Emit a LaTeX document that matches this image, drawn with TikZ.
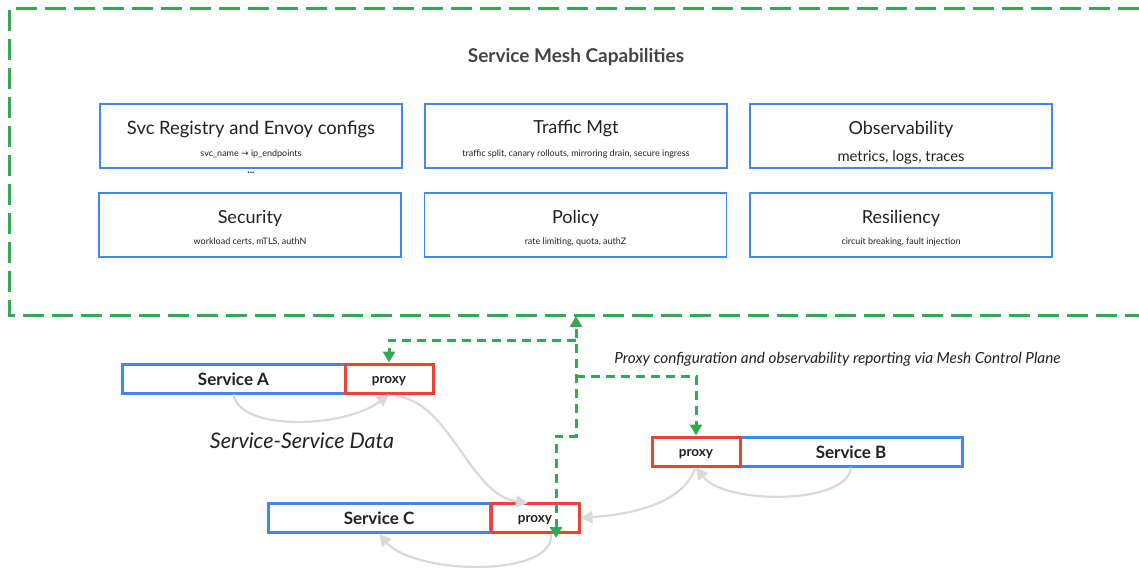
\documentclass[tikz,border=0pt]{standalone}
\usepackage{fontspec}
\setmainfont{Lato}
\newfontfamily\arrowfont{DejaVu Sans}
\usetikzlibrary{arrows.meta}
\definecolor{gGreen}{HTML}{34A853}
\definecolor{gBlue}{HTML}{4285F4}
\definecolor{gRed}{HTML}{EA4335}
\definecolor{flowGray}{HTML}{D9D9D9}
\definecolor{titleGray}{HTML}{434343}
\definecolor{txt}{HTML}{202124}
\begin{document}
\begin{tikzpicture}[x=1pt,y=-1pt,
  capbox/.style={draw=gBlue, line width=1.2pt, minimum width=302pt, minimum height=64pt, inner sep=0pt},
  captitle/.style={inner sep=0pt, text=txt, font=\fontsize{18}{20}\selectfont},
  capsub/.style={inner sep=0pt, text=txt, font=\fontsize{9}{10}\selectfont},
  svcbox/.style={draw=gBlue, line width=3pt, minimum width=223pt, minimum height=29pt, inner sep=0pt, text height=14pt, text depth=1pt, text=txt, font=\bfseries\fontsize{17}{19}\selectfont},
  proxybox/.style={draw=gRed, line width=3pt, minimum width=88pt, minimum height=29pt, inner sep=0pt, text height=9pt, text depth=-1pt, text=txt, font=\bfseries\fontsize{13.5}{15}\selectfont},
  flow/.style={draw=flowGray, line width=2.2pt, -{Triangle[length=12pt,width=12pt]}},
  ctrl/.style={draw=gGreen, line width=3pt, dash pattern=on 9pt off 6pt},
  tip/.style={-{Triangle[length=11pt,width=12pt]}},
]
\useasboundingbox (0,0) rectangle (1139,567);

% mesh capabilities frame
\draw[gGreen, line width=3pt, dash pattern=on 21pt off 8pt] (1139,9) -- (9,9) -- (9,315) -- (1139,315);
\node[inner sep=0pt, text=titleGray, font=\bfseries\fontsize{19}{21}\selectfont] (meshtitle) at (576,57) {Service Mesh Capabilities};
\coordinate (meshb) at (576,316);

% capability boxes
\node[capbox] (reg) at (251,136) {};
\node[captitle, font=\fontsize{18.4}{20}\selectfont] (regt) at (251,129) {Svc Registry and Envoy configs};
\node[capsub] (regs) at (251,154) {svc\_name {\arrowfont →} ip\_endpoints};
\node[inner sep=0pt, anchor=base, text=txt, font=\bfseries\fontsize{10}{11}\selectfont] (regd) at (251,173) {...};

\node[capbox] (traf) at (576,136) {};
\node[captitle] (traft) at (576,129) {Traffic Mgt};
\node[capsub] (trafs) at (576,154) {traffic split, canary rollouts, mirroring drain, secure ingress};

\node[capbox] (obs) at (901,136) {};
\node[captitle] (obst) at (901,129) {Observability};
\node[inner sep=0pt, text=txt, font=\fontsize{14.8}{16}\selectfont] (obss) at (901,157) {metrics, logs, traces};

\node[capbox] (sec) at (250,225) {};
\node[captitle] (sect) at (250,218) {Security};
\node[capsub] (secs) at (250,242) {workload certs, mTLS, authN};

\node[capbox] (pol) at (575.5,225) {};
\node[captitle] (polt) at (575.5,218) {Policy};
\node[capsub] (pols) at (575.5,242) {rate limiting, quota, authZ};

\node[capbox] (res) at (901,225) {};
\node[captitle] (rest) at (901,218) {Resiliency};
\node[capsub] (ress) at (901,242) {circuit breaking, fault injection};

% services
\node[svcbox] (sa) at (233.5,378.5) {Service A};
\node[proxybox] (pa) at (389,378.5) {proxy};
\node[svcbox, minimum width=222pt] (sc) at (379,518) {Service C};
\node[proxybox] (pc) at (535,518) {proxy};
\node[svcbox, minimum width=222pt] (sb) at (851,451.5) {Service B};
\node[proxybox] (pb) at (696,451.5) {proxy};

% labels
\node[inner sep=0pt, text=txt, font=\itshape\fontsize{21.5}{23}\selectfont] (ssd) at (302,441) {Service-Service Data};
\node[inner sep=0pt, text=txt, font=\itshape\fontsize{15.3}{17}\selectfont] (pcfg) at (837.5,359) {Proxy configuration and observability reporting via Mesh Control Plane};

% data-plane flows
\draw[flow] (sa.south) .. controls (240,432) and (345,428) .. (pa.south);
\coordinate (paout) at (396,396);
\coordinate (pcin) at (528,503);
\draw[flow] (paout) .. controls (450,402) and (470,495) .. (pcin);
\draw[flow] (sb.south) .. controls (848,505) and (725,505) .. (pb.south);
\coordinate (pbout) at (695,469);
\draw[flow] (pbout) .. controls (680,508) and (620,515) .. (pc.east);
\coordinate (pcout) at (551,534);
\draw[flow] (pcout) .. controls (555,578) and (415,575) .. (sc.south);

% control-plane connectors
\coordinate (pcctl) at (556,538);
\coordinate (j1) at (556,436);
\coordinate (j2) at (576,436);
\draw[ctrl, {Triangle[length=11pt,width=12pt]}-{Triangle[length=11pt,width=12pt]}] (pcctl) -- (j1) -- (j2) -- (meshb);
\coordinate (ja) at (576,340);
\coordinate (ja2) at (389,340);
\draw[ctrl, tip] (ja) -- (ja2) -- (pa.north);
\coordinate (jb) at (576,376);
\coordinate (jb2) at (696,376);
\draw[ctrl, tip] (jb) -- (jb2) -- (pb.north);
\end{tikzpicture}
\end{document}
